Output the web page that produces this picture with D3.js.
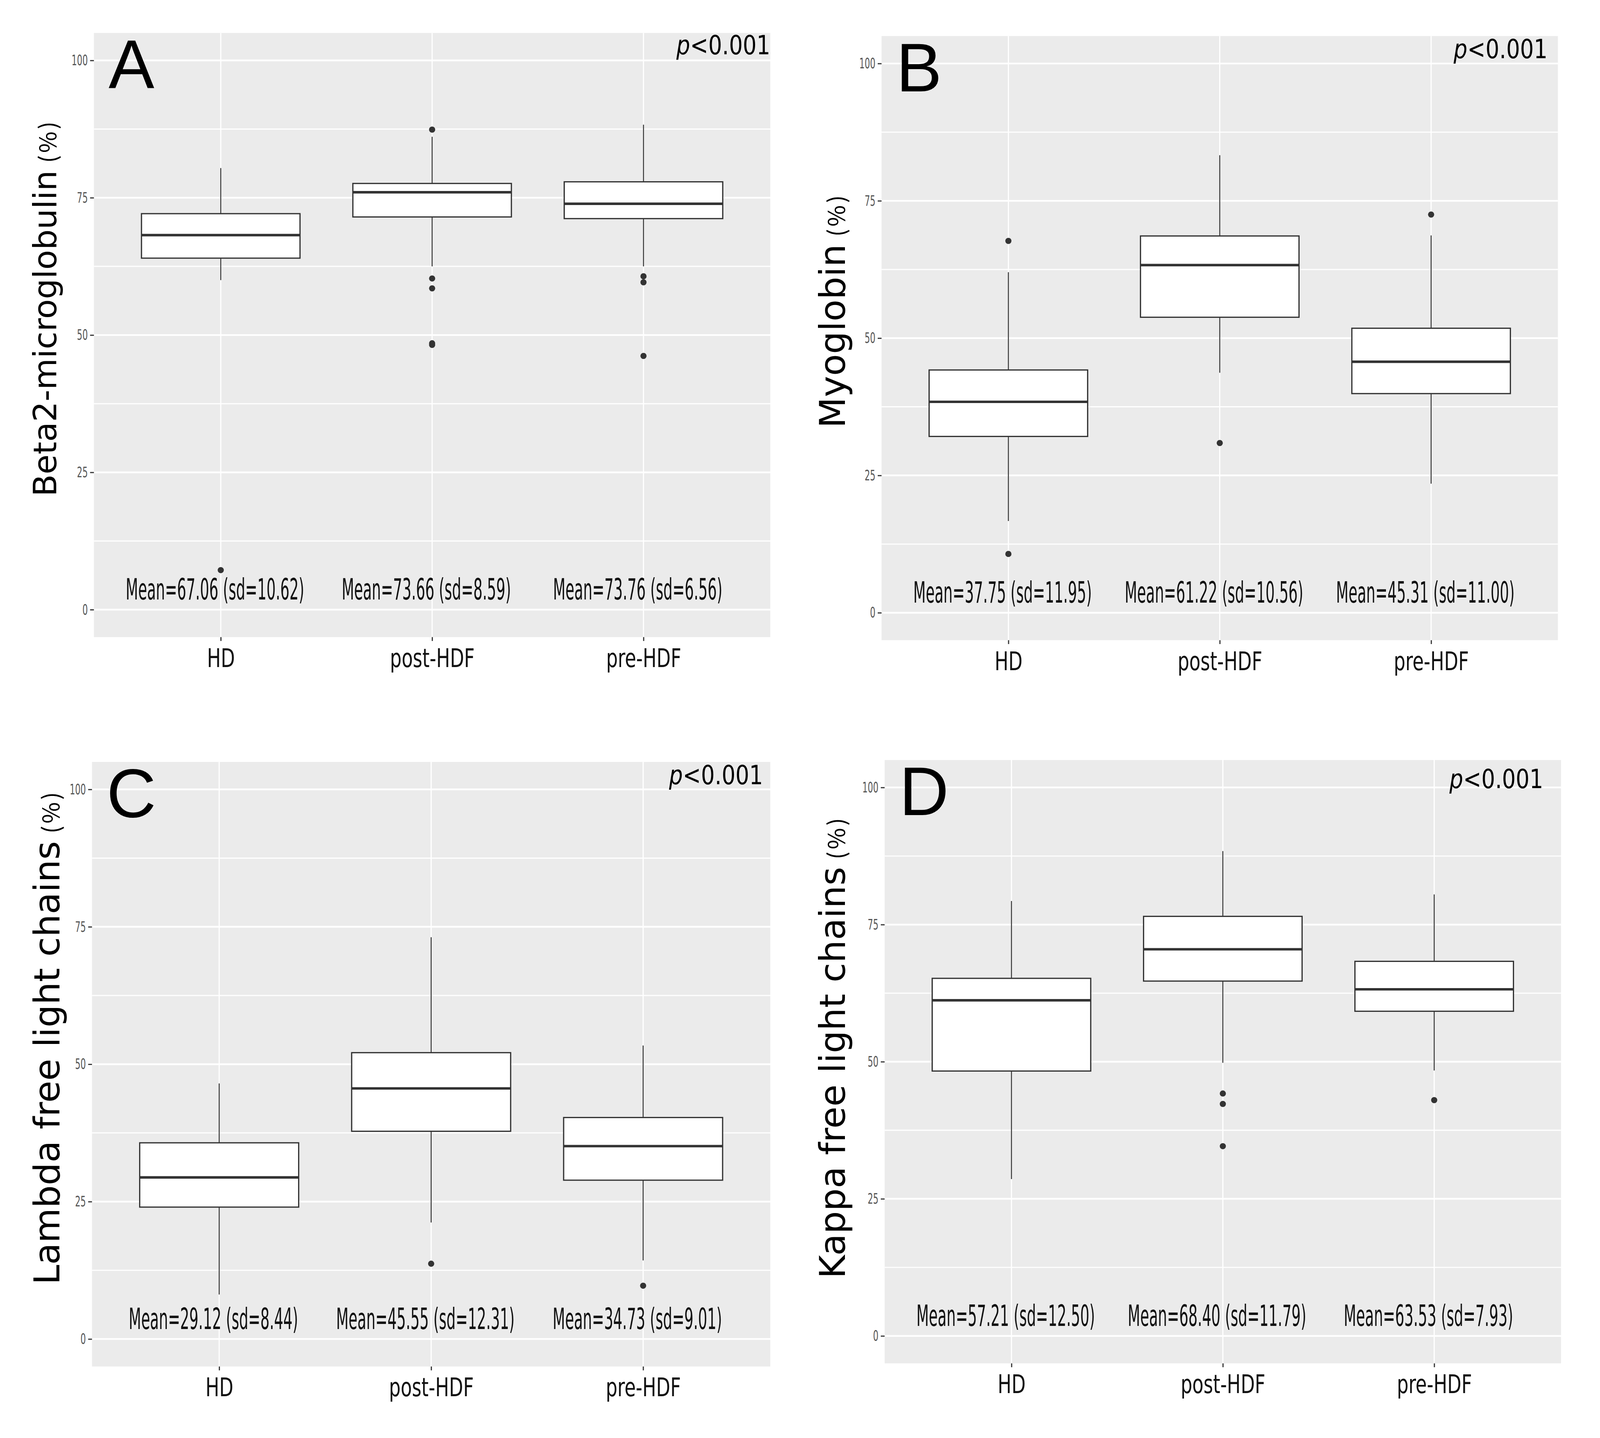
<!DOCTYPE html>
<html><head><meta charset="utf-8">
<script src="https://cdn.jsdelivr.net/npm/d3@7"></script>
<style>body{margin:0;background:#fff}</style>
</head><body>
<svg id="chart" width="4113" height="3682" xmlns="http://www.w3.org/2000/svg"></svg>
<script>
// ---------------- DATA ----------------
const categories = ["HD", "post-HDF", "pre-HDF"];
const yTicks = [0, 25, 50, 75, 100];
const yMinorTicks = [12.5, 37.5, 62.5, 87.5];
const panelLetters = ["A", "B", "C", "D"];
const yTitles = ["Beta2-microglobulin", "Myoglobin", "Lambda free light chains", "Kappa free light chains"];
const yTitleUnit = " (%)";
const pValueLabel = ["p", "<0.001"];

// box statistics: [lower whisker, Q1, median, Q3, upper whisker] per category
const beta2Box   = [[60.0, 64.0, 68.2, 72.1, 80.4], [62.5, 71.5, 76.0, 77.6, 86.1], [62.5, 71.2, 73.9, 77.9, 88.3]];
const beta2Out   = [[7.2], [87.4, 60.3, 58.5, 48.5, 48.2], [60.7, 59.6, 46.2]];
const beta2Mean  = [67.06, 73.66, 73.76];
const beta2Sd    = [10.62, 8.59, 6.56];

const myoBox     = [[16.7, 32.1, 38.4, 44.2, 62.0], [43.7, 53.8, 63.3, 68.6, 83.3], [23.5, 39.9, 45.7, 51.8, 68.7]];
const myoOut     = [[67.7, 10.7], [30.9], [72.5]];
const myoMean    = [37.75, 61.22, 45.31];
const myoSd      = [11.95, 10.56, 11.00];

const lambdaBox  = [[8.1, 24.0, 29.4, 35.7, 46.5], [21.2, 37.8, 45.6, 52.1, 73.1], [14.3, 28.9, 35.1, 40.3, 53.4]];
const lambdaOut  = [[], [13.7], [9.7]];
const lambdaMean = [29.12, 45.55, 34.73];
const lambdaSd   = [8.44, 12.31, 9.01];

const kappaBox   = [[28.6, 48.3, 61.2, 65.2, 79.3], [49.8, 64.7, 70.5, 76.5, 88.4], [48.4, 59.2, 63.2, 68.3, 80.5]];
const kappaOut   = [[], [44.2, 42.3, 34.6], [43.0]];
const kappaMean  = [57.21, 68.40, 63.53];
const kappaSd    = [12.50, 11.79, 7.93];

const panelBoxes = [beta2Box, myoBox, lambdaBox, kappaBox];
const panelOutliers = [beta2Out, myoOut, lambdaOut, kappaOut];
const panelMeans = [beta2Mean, myoMean, lambdaMean, kappaMean];
const panelSds = [beta2Sd, myoSd, lambdaSd, kappaSd];

// ---------------- LAYOUT ----------------
const globalScale = 0.9855;
const layout = [
  {x0: 244,  x1: 2001, y100: 157,  y0: 1584, titleX: 146,  titleY: 1290, titleSize: 84, pRight: 2001, pY: 141},
  {x0: 2290, x1: 4047, y100: 165,  y0: 1592, titleX: 2195, titleY: 1112, titleSize: 93, pRight: 4020, pY: 151},
  {x0: 239,  x1: 2001, y100: 2051, y0: 3479, titleX: 154,  titleY: 3338, titleSize: 93, pRight: 1982, pY: 2038},
  {x0: 2298, x1: 4055, y100: 2046, y0: 3471, titleX: 2195, titleY: 3322, titleSize: 93, pRight: 4009, pY: 2048}
];

const condFont = "'Liberation Sans Narrow', 'DejaVu Sans Condensed', 'Liberation Sans', sans-serif";
const titleFont = "'DejaVu Sans', Verdana, sans-serif";
const letterFont = "'Liberation Sans', Arial, sans-serif";
const cjkFont = "'Noto Sans CJK JP', 'Noto Sans CJK SC', sans-serif";

const svg = d3.select("#chart");
const root = svg.append("g").attr("transform", `scale(${globalScale})`);

function measure(str, family, size) {
  const t = svg.append("text").attr("font-family", family).attr("font-size", size).text(str);
  const w = t.node().getComputedTextLength();
  t.remove();
  return w;
}
const meanSize = 75, xLabSize = 67, tickSize = 38, pSize = 69;
const meanScale = 464 / measure("Mean=67.06 (sd=10.62)", condFont, meanSize);
const xLabScale = 220 / measure("post-HDF", condFont, xLabSize);
const tickScale = 42 / measure("100", condFont, tickSize);
const pScale = 244 / measure("p<0.001", titleFont, pSize);

const fmt = d3.format(".2f");

layout.forEach((L, pi) => {
  const g = root.append("g");
  const x = d3.scalePoint().domain(categories).range([L.x0, L.x1]).padding(0.6);
  const y = d3.scaleLinear().domain([0, 100]).range([L.y0, L.y100]);
  const bw = x.step() * 0.75;

  // panel background
  g.append("rect")
    .attr("x", L.x0).attr("y", y(105))
    .attr("width", L.x1 - L.x0).attr("height", y(-5) - y(105))
    .attr("fill", "#EBEBEB");

  // grid
  g.selectAll(".minor").data(yMinorTicks).join("line")
    .attr("x1", L.x0).attr("x2", L.x1)
    .attr("y1", d => y(d)).attr("y2", d => y(d))
    .attr("stroke", "#fff").attr("stroke-width", 3);
  g.selectAll(".major").data(yTicks).join("line")
    .attr("x1", L.x0).attr("x2", L.x1)
    .attr("y1", d => y(d)).attr("y2", d => y(d))
    .attr("stroke", "#fff").attr("stroke-width", 4.5);
  g.selectAll(".vgrid").data(categories).join("line")
    .attr("x1", d => x(d)).attr("x2", d => x(d))
    .attr("y1", y(105)).attr("y2", y(-5))
    .attr("stroke", "#fff").attr("stroke-width", 3);

  // boxes
  const stats = panelBoxes[pi];
  const bg = g.selectAll(".box").data(categories.map((c, i) => ({c, s: stats[i], out: panelOutliers[pi][i]})))
    .join("g");
  bg.append("line")
    .attr("x1", d => x(d.c)).attr("x2", d => x(d.c))
    .attr("y1", d => y(d.s[4])).attr("y2", d => y(d.s[3]))
    .attr("stroke", "#333").attr("stroke-width", 2.5);
  bg.append("line")
    .attr("x1", d => x(d.c)).attr("x2", d => x(d.c))
    .attr("y1", d => y(d.s[1])).attr("y2", d => y(d.s[0]))
    .attr("stroke", "#333").attr("stroke-width", 2.5);
  bg.append("rect")
    .attr("x", d => x(d.c) - bw / 2).attr("width", bw)
    .attr("y", d => y(d.s[3])).attr("height", d => y(d.s[1]) - y(d.s[3]))
    .attr("fill", "#fff").attr("stroke", "#333").attr("stroke-width", 3.2);
  bg.append("line")
    .attr("x1", d => x(d.c) - bw / 2).attr("x2", d => x(d.c) + bw / 2)
    .attr("y1", d => y(d.s[2])).attr("y2", d => y(d.s[2]))
    .attr("stroke", "#333").attr("stroke-width", 6.5);
  bg.each(function(d) {
    d3.select(this).selectAll("circle").data(d.out).join("circle")
      .attr("cx", x(d.c)).attr("cy", v => y(v)).attr("r", 8)
      .attr("fill", "#333");
  });

  // mean labels
  categories.forEach((c, i) => {
    g.append("g")
      .attr("transform", `translate(${x(c) - 15},${y(0) - 26}) scale(${meanScale},1)`)
      .append("text")
      .attr("text-anchor", "middle")
      .attr("font-family", condFont).attr("font-size", meanSize).attr("fill", "#111")
      .text(`Mean=${fmt(panelMeans[pi][i])} (sd=${fmt(panelSds[pi][i])})`);
  });

  // y axis
  const ay = g.append("g").attr("transform", `translate(${L.x0},0)`)
    .call(d3.axisLeft(y).tickValues(yTicks).tickSize(10).tickPadding(6));
  ay.select(".domain").remove();
  ay.selectAll(".tick line").attr("stroke", "#333").attr("stroke-width", 3);
  ay.selectAll(".tick text")
    .attr("font-family", condFont).attr("font-size", tickSize).attr("fill", "#555")
    .attr("x", -16 / tickScale)
    .attr("transform", `scale(${tickScale},1)`);

  // x axis
  const ax = g.append("g").attr("transform", `translate(0,${y(-5)})`)
    .call(d3.axisBottom(x).tickSize(10).tickPadding(20));
  ax.select(".domain").remove();
  ax.selectAll(".tick line").attr("stroke", "#333").attr("stroke-width", 3);
  ax.selectAll(".tick text")
    .attr("font-family", condFont).attr("font-size", xLabSize).attr("fill", "#111")
    .attr("transform", `scale(${xLabScale},1)`);

  // y title
  const tt = g.append("text")
    .attr("transform", `translate(${L.titleX},${L.titleY}) rotate(-90)`)
    .attr("text-anchor", "start").attr("fill", "#000");
  tt.append("tspan").attr("font-family", titleFont).attr("font-size", L.titleSize).text(yTitles[pi]);
  tt.append("tspan").attr("font-family", cjkFont).attr("font-size", 60)
    .attr("letter-spacing", 6).text(yTitleUnit);

  // panel letter
  g.append("text")
    .attr("x", L.x0 + 38).attr("y", L.y100 + 72)
    .attr("font-family", letterFont).attr("font-size", 178).attr("fill", "#000")
    .text(panelLetters[pi]);

  // p-value
  const pt = g.append("g")
    .attr("transform", `translate(${L.pRight},${L.pY}) scale(${pScale},1)`)
    .append("text").attr("text-anchor", "end")
    .attr("font-family", titleFont).attr("font-size", pSize).attr("fill", "#000");
  pt.append("tspan").attr("font-style", "italic").text(pValueLabel[0]);
  pt.append("tspan").text(pValueLabel[1]);
});
</script>
</body></html>
